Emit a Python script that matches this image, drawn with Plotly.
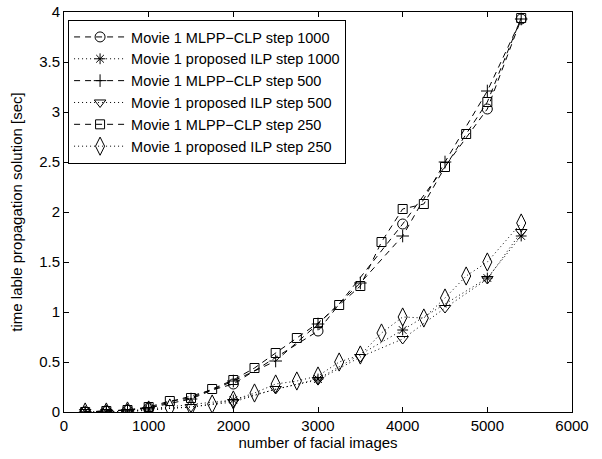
import plotly.graph_objects as go

# x positions
x_step1000 = [250, 500, 750, 1000, 2000, 3000, 4000, 5000, 5400]
x_step500 = [250, 500, 750, 1000, 1500, 2000, 2500, 3000, 3500, 4000, 4500, 5000, 5400]
x_step250 = [250, 500, 750, 1000, 1250, 1500, 1750, 2000, 2250, 2500, 2750, 3000, 3250,
             3500, 3750, 4000, 4250, 4500, 4750, 5000, 5400]

# values (sec)
mlpp_1000 = [0.0, 0.01, 0.02, 0.04, 0.28, 0.81, 1.88, 3.03, 3.93]
ilp_1000 = [0.0, 0.0, 0.01, 0.03, 0.12, 0.33, 0.82, 1.34, 1.76]
mlpp_500 = [0.0, 0.01, 0.02, 0.04, 0.13, 0.31, 0.51, 0.88, 1.29, 1.76, 2.50, 3.21, 3.93]
ilp_500 = [0.0, 0.0, 0.0, 0.02, 0.05, 0.10, 0.23, 0.32, 0.55, 0.73, 1.04, 1.33, 1.80]
mlpp_250 = [0.0, 0.01, 0.02, 0.05, 0.11, 0.14, 0.23, 0.32, 0.44, 0.59, 0.74, 0.89, 1.07,
            1.26, 1.70, 2.03, 2.08, 2.45, 2.78, 3.10, 3.94]
ilp_250 = [0.0, 0.0, 0.01, 0.02, 0.04, 0.05, 0.08, 0.12, 0.19, 0.28, 0.31, 0.36, 0.50,
           0.57, 0.79, 0.95, 0.94, 1.14, 1.36, 1.50, 1.89]

names = ["Movie 1 MLPP\u2212CLP step 1000", "Movie 1 proposed ILP step 1000",
         "Movie 1 MLPP\u2212CLP step 500", "Movie 1 proposed ILP step 500",
         "Movie 1 MLPP\u2212CLP step 250", "Movie 1 proposed ILP step 250"]

series = [
    (x_step1000, mlpp_1000, "circle-open", 10, "6px,5px"),
    (x_step1000, ilp_1000, "asterisk-open", 9, "1px,3px"),
    (x_step500, mlpp_500, "cross-thin-open", 9, "6px,5px"),
    (x_step500, ilp_500, "triangle-down-open", 10, "1px,3px"),
    (x_step250, mlpp_250, "square-open", 9, "6px,5px"),
    (x_step250, ilp_250, "diamond-tall-open", 13, "1px,3px"),
]

fig = go.Figure()
for name, (xs, ys, sym, sz, dash) in zip(names, series):
    fig.add_trace(go.Scatter(
        x=xs, y=ys, name=name, mode="lines+markers",
        line=dict(color="black", width=1, dash=dash),
        marker=dict(symbol=sym, size=sz, color="black", line=dict(width=1, color="black")),
    ))

font = "Liberation Sans, Arial, Helvetica, sans-serif"
axis_common = dict(
    showgrid=False, zeroline=False, showline=True, linecolor="black", linewidth=1,
    mirror="ticks", ticks="inside", ticklen=5, tickcolor="black", automargin=False,
    ticklabeloverflow="allow",
    tickfont=dict(family=font, size=15, color="black"),
)
fig.update_xaxes(range=[0, 6000], tickvals=[0, 1000, 2000, 3000, 4000, 5000, 6000],
                 title=dict(text="number of facial images", font=dict(family=font, size=15, color="black"), standoff=2),
                 **axis_common)
fig.update_yaxes(range=[0, 4], tickvals=[0, 0.5, 1, 1.5, 2, 2.5, 3, 3.5, 4],
                 ticktext=["0", "0.5", "1", "1.5", "2", "2.5", "3", "3.5", "4"],
                 title=dict(text="time lable propagation solution [sec]", font=dict(family=font, size=15, color="black"), standoff=12),
                 **axis_common)

fig.update_layout(
    width=602, height=459,
    margin=dict(l=64, r=30, t=12, b=47),
    paper_bgcolor="white", plot_bgcolor="white",
    font=dict(family=font, size=15, color="black"),
    legend=dict(x=0.008, y=0.98, xanchor="left", yanchor="top",
                bgcolor="white", bordercolor="black", borderwidth=1,
                font=dict(family=font, size=14.5, color="black"),
                tracegroupgap=0, itemwidth=52),
    showlegend=True,
)

# remove the default page body margin so the figure sits at the window origin
fig.write_html("out.html", config={"displayModeBar": False},
               post_script="document.body.style.margin='0px';")
